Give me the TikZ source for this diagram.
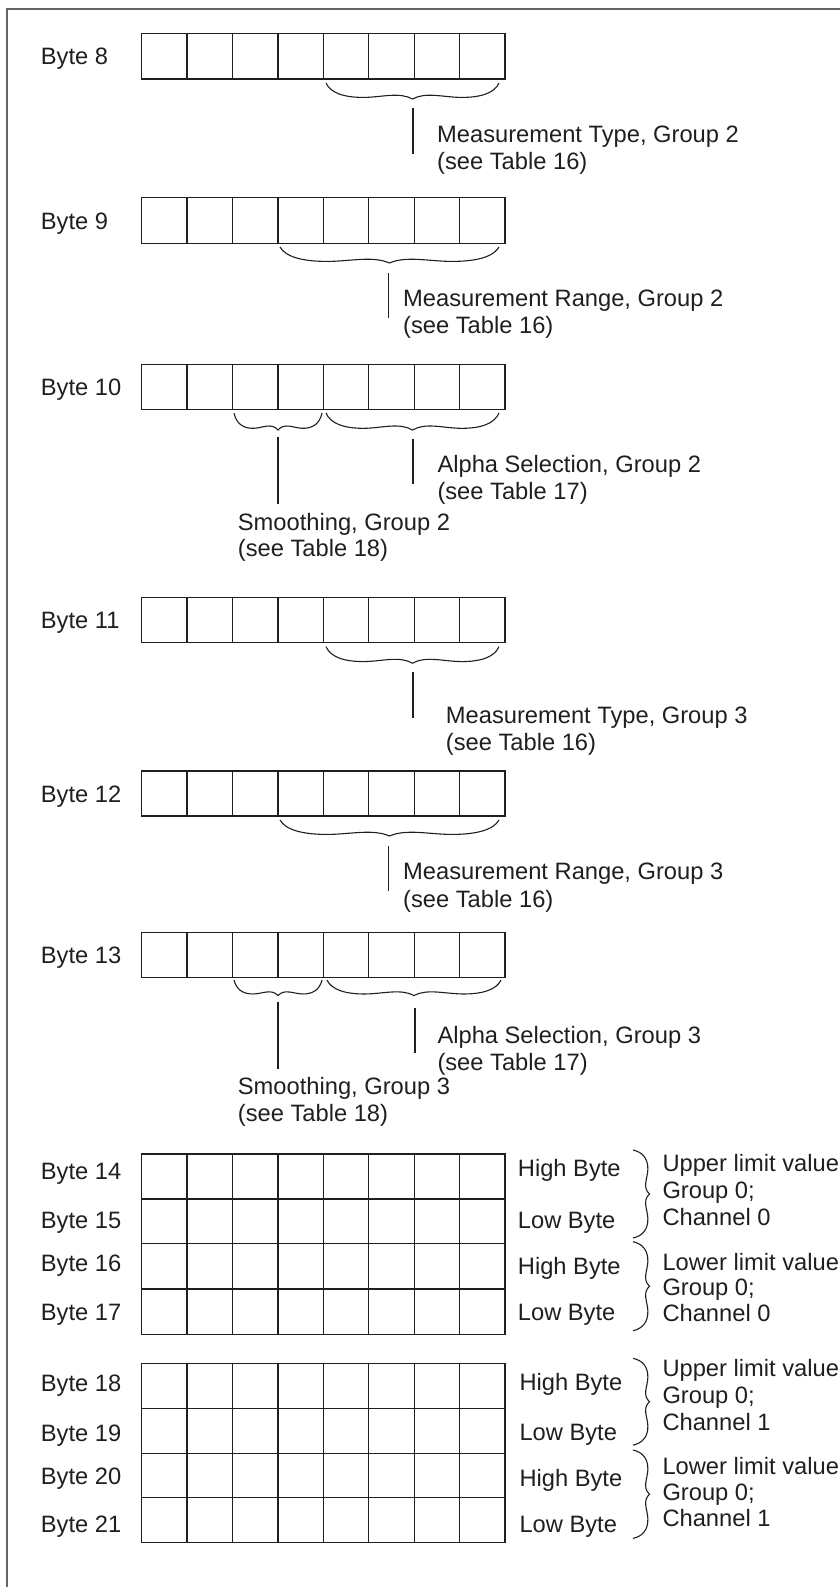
\documentclass[tikz,border=0pt]{standalone}
\usepackage{fontspec}
\setmainfont{Liberation Sans}
\newcommand{\hbr}[4]{\begin{scope}[shift={(#1,#2)}]\draw[brc] (0,0) .. controls (0.05*#3,0.6*#4) and (0.2*#3,0.92*#4) .. (0.45*#3,0.9*#4) .. controls (0.65*#3,0.88*#4) and (0.85*#3,0.55*#4) .. (#3,#4) .. controls (1.15*#3,0.55*#4) and (1.35*#3,0.88*#4) .. (1.55*#3,0.9*#4) .. controls (1.8*#3,0.92*#4) and (1.95*#3,0.6*#4) .. (2*#3,0);\end{scope}}
\newcommand{\vbr}[4]{\begin{scope}[shift={(#1,#2)}]\draw[brc] (0,0) .. controls (0.6*#4,0.05*#3) and (0.92*#4,0.2*#3) .. (0.9*#4,0.45*#3) .. controls (0.88*#4,0.65*#3) and (0.55*#4,0.85*#3) .. (#4,#3) .. controls (0.55*#4,1.15*#3) and (0.88*#4,1.35*#3) .. (0.9*#4,1.55*#3) .. controls (0.92*#4,1.8*#3) and (0.6*#4,1.95*#3) .. (0,2*#3);\end{scope}}
\begin{document}
\begin{tikzpicture}[x=1pt,y=-1pt,
  cell/.style={draw=black!88, line width=1.3pt, minimum width=45.41pt, inner sep=0pt, outer sep=0pt},
  txt/.style={font=\fontsize{23.7}{27}\selectfont, text=black!88, inner sep=0pt, anchor=base west},
  brc/.style={draw=black!88, line width=1.1pt},
  lead/.style={draw=black!88, line width=1.3pt},
  frame/.style={draw=black!60, line width=1.6pt}]
\useasboundingbox (0,0) rectangle (839,1587);
% outer frame (right and bottom edges lie beyond the page)
\draw[frame] (6.7,1590) -- (6.7,9) -- (842,9);
% byte cells
\foreach \n/\t/\h in {8/33.3/45.7, 9/197.7/45.6, 10/364.3/45, 11/597.3/45.4, 12/771/45, 13/932.3/45.4, 14/1154/45, 15/1199/44.3, 16/1243.3/45.7, 17/1289/45.3, 18/1363.3/45, 19/1408.3/45, 20/1453.3/44.4, 21/1497.7/45}
  \foreach \i in {1,...,8}
    \node[cell, minimum height={\h*1pt}] (b\n c\i) at ({141.7+45.41*(\i-0.5)},{\t+\h/2}) {};
% byte labels
\foreach \n/\y in {8/56.2, 9/220.5, 10/386.8, 11/620, 12/793.5, 13/955, 14/1171, 15/1220, 16/1262.7, 17/1311.7, 18/1382.7, 19/1432.7, 20/1476, 21/1524}
  \node[txt] (lab\n) at (40.7,{\y+8.5}) {Byte \n};
% high / low byte labels
\foreach \n/\y/\s in {14/1168.3/High, 15/1220/Low, 16/1265.7/High, 17/1312.3/Low}
  \node[txt] (hl\n) at (517.7,{\y+8.5}) {\s\ Byte};
\foreach \n/\y/\s in {18/1381.7/High, 19/1432.3/Low, 20/1478.3/High, 21/1524/Low}
  \node[txt] (hl\n) at (519.3,{\y+8.5}) {\s\ Byte};
% horizontal braces
\hbr{326}{83}{86.5}{16}
\hbr{280}{247}{109.5}{16}
\hbr{234}{413}{44}{17}
\hbr{326}{413}{86.5}{17}
\hbr{326}{646.7}{86.5}{16.5}
\hbr{280}{820}{109.5}{16}
\hbr{234}{980}{44}{15.5}
\hbr{327}{980}{87}{15.5}
% vertical braces
\vbr{633}{1150}{44}{16.5}
\vbr{633}{1241.7}{44.5}{16.5}
\vbr{633}{1358.3}{43.4}{16.5}
\vbr{633}{1450}{44.2}{16.5}
% leader lines
\coordinate (t8a) at (413,108);   \coordinate (t8b) at (413,154);
\coordinate (t9a) at (388.5,273); \coordinate (t9b) at (388.5,318);
\coordinate (s10a) at (278,436.7); \coordinate (s10b) at (278,504);
\coordinate (a10a) at (413,439);  \coordinate (a10b) at (413,484);
\coordinate (t11a) at (413,671.7); \coordinate (t11b) at (413,717.7);
\coordinate (t12a) at (388.5,846); \coordinate (t12b) at (388.5,891);
\coordinate (s13a) at (278,1001.7); \coordinate (s13b) at (278,1069);
\coordinate (a13a) at (415,1007.7); \coordinate (a13b) at (415,1053);
\foreach \p in {t8,t9,s10,a10,t11,t12,s13,a13}
  \draw[lead] (\p a) -- (\p b);
% descriptions
\node[txt] (mt2a) at (437,142.5) {Measurement Type, Group 2};
\node[txt] (mt2b) at (437,169.5) {(see Table 16)};
\node[txt] (mr2a) at (403,306.5) {Measurement Range, Group 2};
\node[txt] (mr2b) at (403,333.5) {(see Table 16)};
\node[txt] (as2a) at (437.3,472.8) {Alpha Selection, Group 2};
\node[txt] (as2b) at (437.3,499.2) {(see Table 17)};
\node[txt] (sm2a) at (237.7,530.2) {Smoothing, Group 2};
\node[txt] (sm2b) at (237.7,556.2) {(see Table 18)};
\node[txt] (mt3a) at (445.7,723.5) {Measurement Type, Group 3};
\node[txt] (mt3b) at (445.7,750.8) {(see Table 16)};
\node[txt] (mr3a) at (403,879.5) {Measurement Range, Group 3};
\node[txt] (mr3b) at (403,907.2) {(see Table 16)};
\node[txt] (as3a) at (437.3,1043.5) {Alpha Selection, Group 3};
\node[txt] (as3b) at (437.3,1070.8) {(see Table 17)};
\node[txt] (sm3a) at (237.7,1094.5) {Smoothing, Group 3};
\node[txt] (sm3b) at (237.7,1121.8) {(see Table 18)};
% limit value descriptions
\node[txt] (u0a) at (662.3,1171.8) {Upper limit value};
\node[txt] (u0b) at (662.3,1198.5) {Group 0;};
\node[txt] (u0c) at (662.3,1225.2) {Channel 0};
\node[txt] (l0a) at (662.3,1270.8) {Lower limit value};
\node[txt] (l0b) at (662.3,1295.8) {Group 0;};
\node[txt] (l0c) at (662.3,1321.8) {Channel 0};
\node[txt] (u1a) at (662.3,1376.8) {Upper limit value};
\node[txt] (u1b) at (662.3,1403.5) {Group 0;};
\node[txt] (u1c) at (662.3,1430.2) {Channel 1};
\node[txt] (l1a) at (662.3,1474.2) {Lower limit value};
\node[txt] (l1b) at (662.3,1500.8) {Group 0;};
\node[txt] (l1c) at (662.3,1526.8) {Channel 1};
\end{tikzpicture}
\end{document}
